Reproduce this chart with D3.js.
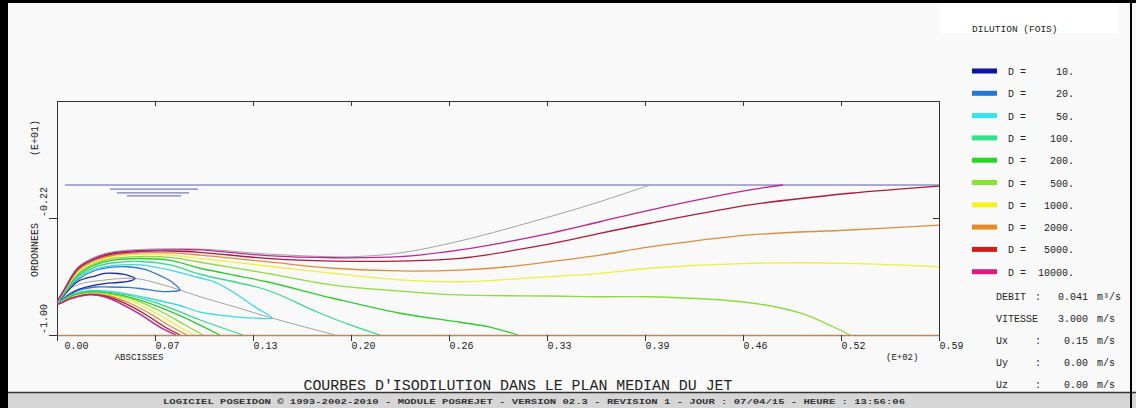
<!DOCTYPE html>
<html>
<head>
<meta charset="utf-8">
<script src="https://cdn.jsdelivr.net/npm/d3@7"></script>
<style>
  body { margin: 0; background: #f9f9f9; }
  svg { display: block; }
</style>
</head>
<body>
<div id="svg-area"></div>
<script>
// isodilution contours of the jet, in metres (x downstream, y elevation, 0 = surface)
const width = 1136;
const height = 408;
const margin = {top: 101, left: 57, bottom: 73, right: 197};

const levels = ['10.', '20.', '50.', '100.', '200.', '500.', '1000.', '2000.', '5000.', '10000.'];
const swatchColors = ['#0c14a8', '#2378d6', '#30e4ec', '#2ee486', '#26d626', '#88e42c', '#f4f41c', '#e88a24', '#d41c1c', '#e01884'];
const lineColors = ['#1a2a9a', '#3478c8', '#3cd8e0', '#3cd890', '#34c834', '#8cdc3c', '#eeee44', '#d89040', '#a81c3a', '#b82890'];

const xTickLabels = ['0.00', '0.07', '0.13', '0.20', '0.26', '0.33', '0.39', '0.46', '0.52', '0.59'];
const yTickValues = [-10, -2.2];
const yTickLabels = ['-1.00', '-0.22'];

const infoLabels = ['DEBIT', 'VITESSE', 'Ux', 'Uy', 'Uz'];
const infoColons = [':', '', ':', ':', ':'];
const infoValues = ['0.041', '3.000', '0.15', '0.00', '0.00'];
const infoUnits = ['m³/s', 'm/s', 'm/s', 'm/s', 'm/s'];

const d10 = [[0,-7.93],[0.54,-7.27],[1.40,-6.43],[2.54,-6.07],[3.21,-5.89],[4.08,-5.9],[4.68,-6.0],[5.22,-6.23],[4.75,-6.43],[4.08,-6.5],[3.21,-6.57],[2.54,-6.67],[1.54,-6.93],[0.74,-7.33],[0,-7.93]];
const d20 = [[0,-7.93],[0.54,-7.2],[1.40,-6.3],[2.54,-5.7],[3.68,-5.47],[4.75,-5.45],[5.89,-5.63],[6.56,-5.89],[7.22,-6.2],[7.69,-6.47],[8.23,-7.0],[7.56,-7.1],[6.76,-7.07],[5.55,-6.9],[4.75,-6.83],[3.55,-6.8],[2.54,-6.8],[1.54,-7.0],[0.74,-7.4],[0,-7.93]];
const d50 = [[0,-7.93],[0.54,-7.13],[1.40,-6.2],[2.54,-5.6],[3.68,-5.37],[5.55,-5.33],[7.56,-5.67],[9.57,-6.2],[10.57,-6.47],[11.77,-7.13],[13.24,-8.13],[14.38,-8.87],[13.24,-8.87],[11.77,-8.77],[9.57,-8.47],[8.09,-8.0],[5.89,-7.5],[3.88,-7.13],[2.21,-7.03],[1.0,-7.33],[0,-7.93]];
const d100 = [[12.44,-10],[9.57,-9.0],[7.89,-8.33],[6.09,-7.67],[4.08,-7.23],[2.21,-7.1],[0.87,-7.4],[0,-7.93],[0.54,-7.1],[1.40,-6.1],[2.54,-5.47],[3.68,-5.2],[5.55,-5.1],[7.56,-5.33],[9.57,-5.95],[14.03,-7.0],[17.37,-8.45],[19.60,-9.33],[21.61,-10]];
const d200 = [[10.90,-10],[9.43,-9.27],[7.56,-8.43],[5.69,-7.73],[3.95,-7.3],[2.21,-7.15],[0.94,-7.43],[0,-7.93],[0.54,-7.07],[1.40,-6.0],[2.54,-5.33],[3.68,-5.03],[5.55,-4.9],[7.56,-5.03],[9.57,-5.55],[14.03,-6.45],[18.46,-7.55],[22.94,-8.55],[26.96,-9.15],[28.96,-9.47],[30.84,-10]];
const d500 = [[9.77,-10],[8.56,-9.33],[6.89,-8.4],[5.22,-7.67],[3.75,-7.33],[2.21,-7.2],[1.0,-7.47],[0,-7.93],[0.54,-7.0],[1.40,-5.9],[2.54,-5.23],[3.68,-4.9],[5.55,-4.77],[7.56,-4.83],[9.57,-5.15],[14.03,-5.89],[18.46,-6.67],[22.94,-7.07],[26.96,-7.33],[32.98,-7.4],[36.32,-7.45],[39.67,-7.45],[46.35,-7.85],[49.70,-8.53],[51.91,-9.45],[53.04,-10]];
const d1000 = [[9.16,-10],[8.03,-9.37],[6.49,-8.47],[4.95,-7.73],[3.61,-7.37],[2.21,-7.23],[1.0,-7.49],[0,-7.93],[0.54,-6.97],[1.40,-5.8],[2.54,-5.13],[3.68,-4.8],[5.55,-4.63],[7.56,-4.67],[9.57,-4.89],[14.03,-5.4],[18.46,-5.89],[22.94,-6.33],[26.96,-6.45],[32.98,-6.11],[36.32,-5.89],[39.67,-5.55],[46.35,-5.22],[53.04,-5.22],[59.0,-5.45]];
const d2000 = [[8.70,-10],[7.56,-9.4],[6.15,-8.53],[4.68,-7.8],[3.48,-7.4],[2.21,-7.27],[1.0,-7.51],[0,-7.93],[0.54,-6.93],[1.40,-5.7],[2.54,-5.03],[3.68,-4.7],[5.55,-4.53],[7.56,-4.53],[9.57,-4.67],[14.03,-5.11],[18.46,-5.55],[22.94,-5.73],[26.96,-5.67],[29.63,-5.5],[32.98,-5.11],[36.32,-4.67],[39.67,-4.13],[46.35,-3.33],[53.04,-3.0],[59.0,-2.67]];
const d5000 = [[8.23,-10],[7.16,-9.43],[5.82,-8.57],[4.41,-7.83],[3.34,-7.43],[2.21,-7.29],[1.0,-7.53],[0,-7.93],[0.54,-6.9],[1.40,-5.6],[2.54,-4.93],[3.68,-4.6],[5.55,-4.43],[7.56,-4.4],[9.57,-4.49],[14.03,-4.89],[18.46,-5.07],[22.94,-5.07],[26.96,-4.89],[32.98,-3.93],[36.32,-3.22],[39.67,-2.55],[46.35,-1.33],[53.04,-0.55],[59.0,-0.07]];
const d10000 = [[7.96,-10],[6.89,-9.47],[5.55,-8.6],[4.21,-7.87],[3.21,-7.45],[2.21,-7.31],[1.0,-7.55],[0,-7.93],[0.54,-6.87],[1.40,-5.53],[2.54,-4.87],[3.68,-4.53],[5.55,-4.37],[7.56,-4.33],[9.57,-4.33],[14.03,-4.71],[18.46,-4.85],[22.94,-4.78],[26.96,-4.33],[32.98,-3.22],[36.32,-2.45],[39.67,-1.67],[46.35,-0.33],[48.56,0]];

// jet axis and outer plume edges (grey)
const jetAxis = [[0,-7.93],[0.54,-7.13],[1.54,-6.6],[2.88,-6.37],[5.22,-6.23],[6.89,-6.6],[8.23,-7.0],[9.57,-7.45],[11.91,-8.13],[14.38,-8.87],[18.6,-10]];
const upperEdge = [[0,-7.93],[0.54,-6.83],[1.40,-5.47],[2.54,-4.8],[3.68,-4.47],[5.55,-4.3],[9.57,-4.27],[14.03,-4.6],[18.26,-4.78],[19.80,-4.78],[22.94,-4.53],[26.96,-3.73],[32.98,-2.11],[36.32,-1.11],[39.67,0]];
const lowerEdge = [[0,-7.93],[1.0,-7.58],[2.21,-7.34],[3.21,-7.49],[4.21,-7.92],[5.55,-8.66],[6.89,-9.53],[7.85,-10]];

// water surface and its little symbol [x1, x2, y]
const surfaceLevel = 0;
const surfaceSymbol = [[3.55, 9.43, -0.27], [4.01, 8.83, -0.53], [4.68, 8.29, -0.73]];

const contours = [d10, d20, d50, d100, d200, d500, d1000, d2000, d5000, d10000];

const font = "'Liberation Mono', 'DejaVu Sans Mono', monospace";

const x = d3.scaleLinear()
  .domain([0, 59])
  .range([margin.left, width - margin.right]);

const y = d3.scaleLinear()
  .domain([-10, 5.6])
  .range([height - margin.bottom, margin.top]);

const xTicks = d3.range(xTickLabels.length).map(i => i * 59 / (xTickLabels.length - 1));

const svg = d3.select('#svg-area').append('svg')
  .attr('width', width).attr('height', height)
  .style('font-family', font);

// page background, legend header box, border, footer band
svg.append('rect').attr('width', width).attr('height', height).attr('fill', '#f9f9f9');
svg.append('rect').attr('x', 940).attr('y', 3).attr('width', 178).attr('height', 30).attr('fill', '#ffffff');
svg.append('rect').attr('x', 0).attr('y', 393).attr('width', width).attr('height', 15).attr('fill', '#d6d6d6');
svg.append('line').attr('x1', 0).attr('x2', width).attr('y1', 392.5).attr('y2', 392.5)
  .attr('stroke', '#333').attr('stroke-width', 1.5);
svg.append('rect').attr('x', 0).attr('y', 0).attr('width', width).attr('height', 3).attr('fill', '#000');
svg.append('rect').attr('x', 0).attr('y', 0).attr('width', 8).attr('height', height).attr('fill', '#000');
svg.append('rect').attr('x', 1130).attr('y', 0).attr('width', 2).attr('height', height).attr('fill', '#000');

svg.append('clipPath').attr('id', 'plot-clip')
  .append('rect')
  .attr('x', x(0)).attr('y', y(5.6))
  .attr('width', x(59) - x(0)).attr('height', y(-10) - y(5.6) + 1);

// axes
const xAxis = g => g
  .attr('transform', `translate(0, ${y(-10)})`)
  .call(d3.axisBottom(x).tickValues(xTicks).tickSize(6).tickSizeOuter(0)
    .tickFormat((d, i) => xTickLabels[i]))
  .call(g => g.select('.domain').attr('stroke', '#b8885a').attr('stroke-width', 1.5))
  .call(g => g.selectAll('line').attr('stroke', '#333'))
  .call(g => g.selectAll('text')
    .attr('text-anchor', 'start')
    .attr('y', 7)
    .attr('dx', (d, i) => i === 0 ? 7 : 0)
    .style('font-family', font).style('font-size', '10px').attr('fill', '#222'));

const xAxisTop = g => g
  .attr('transform', `translate(0, ${y(5.6)})`)
  .call(d3.axisTop(x).tickValues(xTicks).tickSize(-5).tickSizeOuter(0).tickFormat(''))
  .call(g => g.selectAll('line, path').attr('stroke', '#333'));

const yAxis = g => g
  .attr('transform', `translate(${x(0)}, 0)`)
  .call(d3.axisLeft(y).tickValues(yTickValues).tickSize(8).tickSizeOuter(0).tickFormat(''))
  .call(g => g.selectAll('line, path').attr('stroke', '#333'));

const yAxisRight = g => g
  .attr('transform', `translate(${x(59)}, 0)`)
  .call(d3.axisRight(y).tickValues([yTickValues[1]]).tickSize(-6).tickSizeOuter(0).tickFormat(''))
  .call(g => g.selectAll('line, path').attr('stroke', '#333'));

svg.append('g').call(xAxisTop);
svg.append('g').call(yAxis);
svg.append('g').call(yAxisRight);

// rotated y labels
const yLabels = svg.append('g').style('font-size', '10px').attr('fill', '#222');
yLabels.selectAll('text.tick').data(yTickValues).enter().append('text')
  .attr('transform', d => `translate(47, ${y(d) - 1}) rotate(-90)`)
  .text((d, i) => yTickLabels[i]);
yLabels.append('text').attr('transform', 'translate(38, 250) rotate(-90)')
  .attr('text-anchor', 'middle').text('ORDONNEES');
yLabels.append('text').attr('transform', 'translate(38, 156) rotate(-90)')
  .text('(E+01)');

// water surface
const plot = svg.append('g').attr('clip-path', 'url(#plot-clip)');
plot.append('line')
  .attr('x1', x(0.54)).attr('x2', x(59))
  .attr('y1', y(surfaceLevel)).attr('y2', y(surfaceLevel))
  .attr('stroke', '#5a5ab4').attr('stroke-width', 1);
plot.selectAll('line.sym').data(surfaceSymbol).enter().append('line')
  .attr('x1', d => x(d[0])).attr('x2', d => x(d[1]))
  .attr('y1', d => y(d[2])).attr('y2', d => y(d[2]))
  .attr('stroke', '#7a7ac4').attr('stroke-width', 1.2);

const line = d3.line()
  .x(d => x(d[0]))
  .y(d => y(d[1]))
  .curve(d3.curveCatmullRom.alpha(0.5));

plot.selectAll('path.edge').data([upperEdge, lowerEdge, jetAxis]).enter().append('path')
  .attr('d', line)
  .attr('fill', 'none')
  .attr('stroke', '#a4a4a4')
  .attr('stroke-width', 1);

plot.selectAll('path.iso').data(contours).enter().append('path')
  .attr('d', line)
  .attr('fill', 'none')
  .attr('stroke', (d, i) => lineColors[i])
  .attr('stroke-width', 1.3);

svg.append('g').call(xAxis);

svg.append('text').attr('x', 139).attr('y', 360).attr('text-anchor', 'middle')
  .style('font-size', '9px').attr('fill', '#222').text('ABSCISSES');
svg.append('text').attr('x', 886).attr('y', 360)
  .style('font-size', '9px').attr('fill', '#222').text('(E+02)');

// legend
const legend = svg.append('g').style('font-size', '10px').attr('fill', '#222');
legend.append('text').attr('x', 972).attr('y', 32).style('font-size', '9.5px').text('DILUTION (FOIS)');

const rows = legend.selectAll('g.row').data(levels).enter().append('g')
  .attr('transform', (d, i) => `translate(0, ${71 + i * 22.3})`);
rows.append('rect').attr('x', 972).attr('y', -2.5).attr('width', 25).attr('height', 5)
  .attr('fill', (d, i) => swatchColors[i]);
rows.append('text').attr('x', 1008).attr('y', 4).text('D =');
rows.append('text').attr('x', 1074).attr('y', 4).attr('text-anchor', 'end').text(d => d);

// discharge info
const info = svg.append('g').style('font-size', '10px').attr('fill', '#222');
const infoRows = info.selectAll('g').data(infoLabels).enter().append('g')
  .attr('transform', (d, i) => `translate(0, ${300 + i * 22})`);
infoRows.append('text').attr('x', 996).text(d => d);
infoRows.append('text').attr('x', 1035).text((d, i) => infoColons[i]);
infoRows.append('text').attr('x', 1088).attr('text-anchor', 'end').text((d, i) => infoValues[i]);
infoRows.append('text').attr('x', 1097).text((d, i) => infoUnits[i]);

// titles
svg.append('text').attr('x', 518).attr('y', 390).attr('text-anchor', 'middle')
  .style('font-size', '15px').attr('fill', '#222')
  .attr('textLength', 429).attr('lengthAdjust', 'spacingAndGlyphs')
  .text("COURBES D'ISODILUTION DANS LE PLAN MEDIAN DU JET");
svg.append('text').attr('x', 534).attr('y', 404).attr('text-anchor', 'middle')
  .style('font-size', '8px').style('font-weight', 'bold').attr('fill', '#333')
  .attr('textLength', 742).attr('lengthAdjust', 'spacingAndGlyphs')
  .text('LOGICIEL POSEIDON \u00A9 1993-2002-2010 - MODULE POSREJET - VERSION 02.3 - REVISION 1 - JOUR : 07/04/15 - HEURE : 13:56:06');
</script>
</body>
</html>
